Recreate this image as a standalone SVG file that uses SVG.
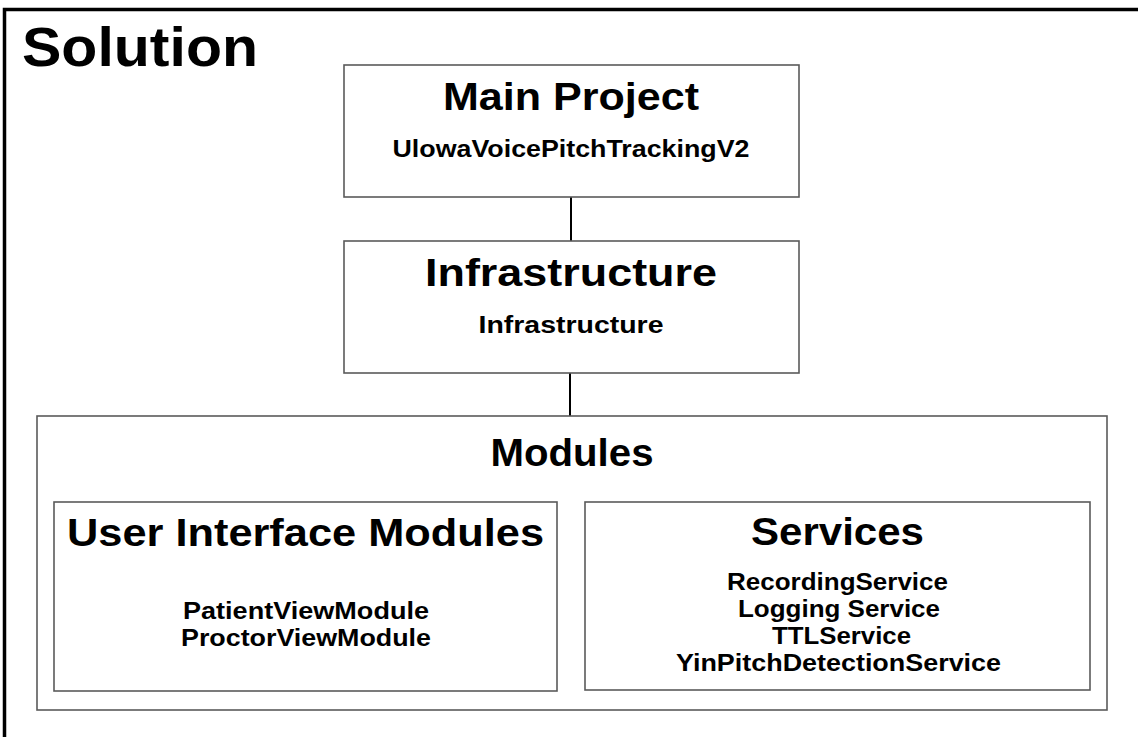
<svg xmlns="http://www.w3.org/2000/svg" width="1138" height="737" viewBox="0 0 1138 737">
<style>
.box{fill:#fff;stroke:#5a5a5a;stroke-width:1.6}
.t{font-family:"Liberation Sans",Arial,sans-serif;font-weight:bold;fill:#000;text-anchor:middle}
.h{font-size:38px}
.s{font-size:23px}
.conn{stroke:#000;stroke-width:2;fill:none}
</style>
<rect x="0" y="0" width="1138" height="737" fill="#fff"/>
<g id="solution">
<rect x="4.5" y="9.5" width="1145" height="740" fill="none" stroke="#000" stroke-width="3.5"/>
<text class="t" x="140" y="66" style="font-size:56px" textLength="236" lengthAdjust="spacingAndGlyphs">Solution</text>
</g>
<g id="connectors">
<line class="conn" x1="571" y1="197" x2="571" y2="241"/>
<line class="conn" x1="570" y1="373" x2="570" y2="416"/>
</g>
<g id="main-project">
<rect class="box" x="344" y="65" width="455" height="132"/>
<text class="t h" x="571" y="110" textLength="256" lengthAdjust="spacingAndGlyphs">Main Project</text>
<text class="t s" x="571" y="157" textLength="357" lengthAdjust="spacingAndGlyphs">UlowaVoicePitchTrackingV2</text>
</g>
<g id="infrastructure">
<rect class="box" x="344" y="241" width="455" height="132"/>
<text class="t h" x="571" y="286" textLength="292" lengthAdjust="spacingAndGlyphs">Infrastructure</text>
<text class="t s" x="571" y="333" textLength="185" lengthAdjust="spacingAndGlyphs">Infrastructure</text>
</g>
<g id="modules">
<rect class="box" x="37" y="416" width="1070" height="294"/>
<text class="t h" x="572" y="466" textLength="163" lengthAdjust="spacingAndGlyphs">Modules</text>
</g>
<g id="ui-modules">
<rect class="box" x="54" y="502" width="503" height="189"/>
<text class="t h" x="305.5" y="546" textLength="477" lengthAdjust="spacingAndGlyphs">User Interface Modules</text>
<text class="t s" x="306" y="619" textLength="246" lengthAdjust="spacingAndGlyphs">PatientViewModule</text>
<text class="t s" x="306" y="646" textLength="250" lengthAdjust="spacingAndGlyphs">ProctorViewModule</text>
</g>
<g id="services">
<rect class="box" x="585" y="502" width="505" height="188"/>
<text class="t h" x="837.5" y="545" textLength="173" lengthAdjust="spacingAndGlyphs">Services</text>
<text class="t s" x="837.5" y="590" textLength="221" lengthAdjust="spacingAndGlyphs">RecordingService</text>
<text class="t s" x="839" y="617" textLength="202" lengthAdjust="spacingAndGlyphs">Logging Service</text>
<text class="t s" x="841.5" y="644" textLength="139" lengthAdjust="spacingAndGlyphs">TTLService</text>
<text class="t s" x="838.5" y="671" textLength="325" lengthAdjust="spacingAndGlyphs">YinPitchDetectionService</text>
</g>
</svg>
